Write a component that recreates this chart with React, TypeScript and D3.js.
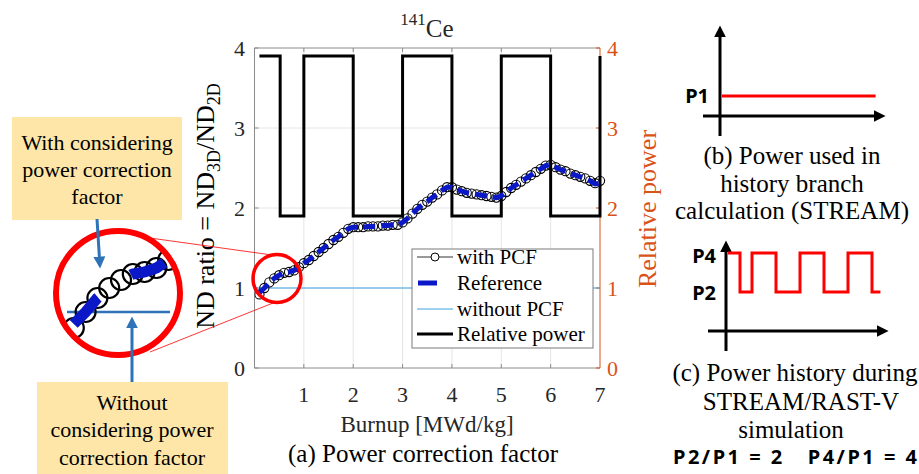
import React from 'react';
import * as d3 from 'd3';

// ---------- data ----------
const burnup = [
  0.1, 0.2, 0.3, 0.4, 0.5, 0.6, 0.7, 0.8, 0.9, 1.0,
  1.1, 1.2, 1.3, 1.4, 1.5, 1.6, 1.7, 1.8, 1.9, 2.0,
  2.1, 2.2, 2.3, 2.4, 2.5, 2.6, 2.7, 2.8, 2.9, 3.0,
  3.1, 3.2, 3.3, 3.4, 3.5, 3.6, 3.7, 3.8, 3.9, 4.0,
  4.1, 4.2, 4.3, 4.4, 4.5, 4.6, 4.7, 4.8, 4.9, 5.0,
  5.1, 5.2, 5.3, 5.4, 5.5, 5.6, 5.7, 5.8, 5.9, 6.0,
  6.1, 6.2, 6.3, 6.4, 6.5, 6.6, 6.7, 6.8, 6.9, 7.0,
];
const withPCF = [
  0.92, 1.0, 1.07, 1.12, 1.16, 1.19, 1.2, 1.22, 1.26, 1.31,
  1.35, 1.4, 1.45, 1.5, 1.55, 1.6, 1.64, 1.69, 1.74, 1.76,
  1.76, 1.76, 1.77, 1.77, 1.77, 1.78, 1.78, 1.79, 1.79, 1.82,
  1.87, 1.93, 1.99, 2.04, 2.08, 2.13, 2.17, 2.22, 2.26, 2.26,
  2.23, 2.21, 2.19, 2.18, 2.17, 2.16, 2.15, 2.14, 2.13, 2.15,
  2.2, 2.25, 2.29, 2.33, 2.37, 2.41, 2.45, 2.49, 2.53, 2.54,
  2.51, 2.48, 2.46, 2.43, 2.41, 2.39, 2.37, 2.34, 2.31, 2.34,
];
const reference = [
  0.94, 1.0, 1.07, 1.12, 1.16, 1.19, 1.2, 1.22, 1.26, 1.31,
  1.35, 1.4, 1.45, 1.5, 1.55, 1.6, 1.64, 1.69, 1.74, 1.76,
  1.76, 1.76, 1.77, 1.77, 1.77, 1.78, 1.78, 1.79, 1.79, 1.82,
  1.87, 1.93, 1.99, 2.04, 2.08, 2.13, 2.17, 2.22, 2.26, 2.26,
  2.23, 2.21, 2.19, 2.18, 2.17, 2.16, 2.15, 2.14, 2.13, 2.15,
  2.2, 2.25, 2.29, 2.33, 2.37, 2.41, 2.45, 2.49, 2.53, 2.54,
  2.51, 2.48, 2.46, 2.43, 2.41, 2.39, 2.37, 2.34, 2.3, 2.31,
];
const withoutX = [0, 7];
const withoutPCF = [1, 1];
const powerX = [0.1, 0.52, 0.52, 1, 1, 2, 2, 3, 3, 4, 4, 5, 5, 6, 6, 7, 7];
const powerY = [3.9, 3.9, 1.9, 1.9, 3.9, 3.9, 1.9, 1.9, 3.9, 3.9, 1.9, 1.9, 3.9, 3.9, 1.9, 1.9, 3.9];
const xTicks = [1, 2, 3, 4, 5, 6, 7];
const yTicks = [0, 1, 2, 3, 4];
const rightTicks = [0, 1, 2, 3, 4];
const legendLabels = ['with PCF', 'Reference', 'without PCF', 'Relative power'];

// schematic panels
const constX = [0, 6.4];
const constP = [1, 1];
const waveX = [0, 0.5, 0.5, 1, 1, 2, 2, 3, 3, 4, 4, 5, 5, 6, 6, 6.35];
const waveP = [4, 4, 2, 2, 4, 4, 2, 2, 4, 4, 2, 2, 4, 4, 2, 2];

const SERIF = '"Liberation Serif", "Times New Roman", serif';
const SANS = '"Noto Sans", "Open Sans", sans-serif';
const ORANGE = '#D95319';
const DARK = '#262626';
const REFBLUE = '#0a18c8';
const LIGHTBLUE = '#3fa2e4';
const GRID = '#e6e6e6';
const BOXFILL = '#fde6a8';
const ARROWBLUE = '#2e72b8';

export default function App() {
  const xs = d3.scaleLinear().domain([0, 7]).range([254.5, 600]);
  const ys = d3.scaleLinear().domain([0, 4]).range([368, 48]);
  const left = xs(0), right = xs(7), top = ys(4), bottom = ys(0);

  const pcfPts = burnup.map((b, i) => [b, withPCF[i]] as [number, number]);
  const refPts = burnup.map((b, i) => [b, reference[i]] as [number, number]);
  const woPts = withoutX.map((b, i) => [b, withoutPCF[i]] as [number, number]);
  const powPts = powerX.map((b, i) => [b, powerY[i]] as [number, number]);

  const line = d3.line<[number, number]>().x(d => xs(d[0])).y(d => ys(d[1]));

  // inset (magnified view)
  const ix = d3.scaleLinear().domain([0, 1]).range([62, 180]);
  const iy = d3.scaleLinear().domain([1, 1.2]).range([312, 272]);
  const iline = d3.line<[number, number]>().x(d => ix(d[0])).y(d => iy(d[1]));
  const insetC = { x: 118, y: 293, r: 62 };

  // panel b
  const bx = d3.scaleLinear().domain([0, 1]).range([722, 746]);
  const by = d3.scaleLinear().domain([0, 1]).range([116, 96]);
  const bline = d3.line<[number, number]>().x(d => bx(d[0])).y(d => by(d[1]));
  // panel c
  const cx = d3.scaleLinear().domain([0, 1]).range([728, 752]);
  const cy = d3.scaleLinear().domain([0, 4]).range([331, 253]);
  const cline = d3.line<[number, number]>().x(d => cx(d[0])).y(d => cy(d[1]));

  const legX = 412, legY = 249, legW = 181, legH = 99;
  const legRows = [257, 283, 309, 334];

  return (
    <svg width={919} height={474} style={{ position: 'absolute', left: 0, top: 0, background: '#fff' }}>
      <defs>
        <clipPath id="plotClip">
          <rect x={left} y={top - 2} width={right - left + 6} height={bottom - top + 2} />
        </clipPath>
        <clipPath id="insetClip">
          <circle cx={insetC.x} cy={insetC.y} r={insetC.r - 2} />
        </clipPath>
        <marker id="arrBlack" viewBox="0 0 10 10" refX="2" refY="5" markerWidth="4" markerHeight="4" orient="auto" markerUnits="strokeWidth">
          <path d="M0,0 L10,5 L0,10 z" fill="#000" />
        </marker>
        <marker id="arrBlue" viewBox="0 0 10 10" refX="2" refY="5" markerWidth="4" markerHeight="4" orient="auto" markerUnits="strokeWidth">
          <path d="M0,0 L10,5 L0,10 z" fill={ARROWBLUE} />
        </marker>
      </defs>

      {/* grid */}
      {xTicks.slice(0, -1).map(t => (
        <line key={'gx' + t} x1={xs(t)} x2={xs(t)} y1={top} y2={bottom} stroke={GRID} strokeWidth={1} />
      ))}
      {yTicks.slice(1, -1).map(t => (
        <line key={'gy' + t} x1={left} x2={right} y1={ys(t)} y2={ys(t)} stroke={GRID} strokeWidth={1} />
      ))}

      {/* axes frame */}
      <line x1={left} x2={right} y1={top} y2={top} stroke="#8c8c8c" strokeWidth={1} />
      <line x1={left} x2={right} y1={bottom} y2={bottom} stroke="#8c8c8c" strokeWidth={1} />
      <line x1={left} x2={left} y1={top} y2={bottom} stroke="#8c8c8c" strokeWidth={1} />
      <line x1={right} x2={right} y1={top} y2={bottom} stroke={ORANGE} strokeWidth={1} />
      {xTicks.slice(0, -1).map(t => (
        <g key={'tx' + t}>
          <line x1={xs(t)} x2={xs(t)} y1={bottom} y2={bottom - 4} stroke="#8c8c8c" />
          <line x1={xs(t)} x2={xs(t)} y1={top} y2={top + 4} stroke="#8c8c8c" />
        </g>
      ))}
      {yTicks.map(t => (
        <g key={'ty' + t}>
          <line x1={left} x2={left + 4} y1={ys(t)} y2={ys(t)} stroke="#8c8c8c" />
          <line x1={right} x2={right - 4} y1={ys(t)} y2={ys(t)} stroke={ORANGE} />
        </g>
      ))}

      {/* tick labels */}
      {xTicks.map(t => (
        <text key={'lx' + t} x={xs(t)} y={402} textAnchor="middle" fontFamily={SERIF} fontSize={22} fill={DARK}>{t}</text>
      ))}
      {yTicks.map(t => (
        <text key={'ly' + t} x={245} y={ys(t) + 7.5} textAnchor="end" fontFamily={SERIF} fontSize={22} fill={DARK}>{t}</text>
      ))}
      {rightTicks.map(t => (
        <text key={'lr' + t} x={607} y={ys(t) + 7.5} textAnchor="start" fontFamily={SERIF} fontSize={22} fill={ORANGE}>{t}</text>
      ))}

      {/* series */}
      <g clipPath="url(#plotClip)">
        <path d={line(woPts) || ''} fill="none" stroke={LIGHTBLUE} strokeWidth={1} />
        <path d={line(powPts) || ''} fill="none" stroke="#000" strokeWidth={3} />
        {pcfPts.map((d, i) => (
          <circle key={'c' + i} cx={xs(d[0])} cy={ys(d[1])} r={4.6} fill="none" stroke="#000" strokeWidth={1.1} />
        ))}
        <path d={line(refPts) || ''} fill="none" stroke={REFBLUE} strokeWidth={5} strokeDasharray="12 6" />
      </g>

      {/* titles */}
      <text x={427} y={37} textAnchor="middle" fontFamily={SERIF} fontSize={25} fill={DARK}>
        <tspan fontSize={17} dy={-12}>141</tspan>
        <tspan dy={12}>Ce</tspan>
      </text>
      <text x={427} y={432} textAnchor="middle" fontFamily={SERIF} fontSize={23} fill={DARK}>Burnup [MWd/kg]</text>
      <text x={423} y={462} textAnchor="middle" fontFamily={SERIF} fontSize={25} fill="#000">(a) Power correction factor</text>
      <text transform="translate(214,206) rotate(-90)" textAnchor="middle" fontFamily={SERIF} fontSize={26} fill="#000">
        ND ratio = ND<tspan fontSize={18} dy={6}>3D</tspan><tspan dy={-6}>/ND</tspan><tspan fontSize={18} dy={6}>2D</tspan>
      </text>
      <text transform="translate(656,209) rotate(-90)" textAnchor="middle" fontFamily={SERIF} fontSize={26} fill={ORANGE}>Relative power</text>

      {/* legend */}
      <rect x={legX} y={legY} width={legW} height={legH} fill="#fff" stroke="#7a7a7a" strokeWidth={1} />
      <line x1={417} x2={453} y1={legRows[0]} y2={legRows[0]} stroke="#333" strokeWidth={1} />
      <circle cx={435} cy={legRows[0]} r={4} fill="#fff" stroke="#000" strokeWidth={1} />
      <line x1={418} x2={437} y1={legRows[1]} y2={legRows[1]} stroke={REFBLUE} strokeWidth={5} />
      <line x1={417} x2={453} y1={legRows[2]} y2={legRows[2]} stroke={LIGHTBLUE} strokeWidth={1} />
      <line x1={417} x2={453} y1={legRows[3]} y2={legRows[3]} stroke="#000" strokeWidth={3} />
      {legendLabels.map((l, i) => (
        <text key={'lg' + i} x={457} y={legRows[i] + 7} fontFamily={SERIF} fontSize={21} fill="#000">{l}</text>
      ))}

      {/* magnifier circle in main plot */}
      <circle cx={277} cy={278.5} r={24} fill="none" stroke="#f00" strokeWidth={3.5} />
      <line x1={150} y1={238} x2={272} y2={255} stroke="#f00" strokeWidth={0.8} />
      <line x1={150} y1={352} x2={273} y2={303} stroke="#f00" strokeWidth={0.8} />

      {/* inset */}
      <circle cx={insetC.x} cy={insetC.y} r={insetC.r} fill="#fff" stroke="none" />
      <g clipPath="url(#insetClip)">
        <line x1={67} x2={170} y1={iy(withoutPCF[0])} y2={iy(withoutPCF[1])} stroke={ARROWBLUE} strokeWidth={2.5} />
        {pcfPts.slice(0, 10).map((d, i) => (
          <circle key={'ic' + i} cx={ix(d[0])} cy={iy(d[1])} r={10} fill="none" stroke="#000" strokeWidth={2.2} />
        ))}
        <path d={iline(refPts) || ''} fill="none" stroke={REFBLUE} strokeWidth={11} strokeDasharray="36 40" />
      </g>
      <circle cx={insetC.x} cy={insetC.y} r={insetC.r} fill="none" stroke="#f00" strokeWidth={6} />

      {/* annotation boxes */}
      <rect x={12} y={117} width={170} height={103} fill={BOXFILL} />
      <text textAnchor="middle" fontFamily={SERIF} fontSize={22} fill="#000">
        <tspan x={97} y={150}>With considering</tspan>
        <tspan x={97} y={177}>power correction</tspan>
        <tspan x={97} y={204}>factor</tspan>
      </text>
      <line x1={97} y1={219} x2={99.5} y2={259} stroke={ARROWBLUE} strokeWidth={3} markerEnd="url(#arrBlue)" />

      <rect x={37} y={382} width={191} height={95} fill={BOXFILL} />
      <text textAnchor="middle" fontFamily={SERIF} fontSize={22} fill="#000">
        <tspan x={132} y={410}>Without</tspan>
        <tspan x={132} y={437}>considering power</tspan>
        <tspan x={132} y={465}>correction factor</tspan>
      </text>
      <line x1={132} y1={382} x2={132} y2={326} stroke={ARROWBLUE} strokeWidth={3} markerEnd="url(#arrBlue)" />

      {/* panel b */}
      <line x1={720} y1={136} x2={720} y2={35} stroke="#000" strokeWidth={3} markerEnd="url(#arrBlack)" />
      <line x1={703} y1={116} x2={876} y2={116} stroke="#000" strokeWidth={3} markerEnd="url(#arrBlack)" />
      <path d={bline(constX.map((x, i) => [x, constP[i]] as [number, number])) || ''} fill="none" stroke="#f00" strokeWidth={3} />
      <text x={709} y={103} textAnchor="end" fontFamily={SANS} fontWeight={700} fontSize={20} fill="#000">P1</text>
      <text textAnchor="middle" fontFamily={SERIF} fontSize={25} fill="#000">
        <tspan x={792} y={164}>(b) Power used in</tspan>
        <tspan x={792} y={192}>history branch</tspan>
        <tspan x={792} y={219}>calculation (STREAM)</tspan>
      </text>

      {/* panel c */}
      <line x1={726} y1={351} x2={726} y2={250} stroke="#000" strokeWidth={3} markerEnd="url(#arrBlack)" />
      <line x1={708} y1={331} x2={879} y2={331} stroke="#000" strokeWidth={3} markerEnd="url(#arrBlack)" />
      <path d={cline(waveX.map((x, i) => [x, waveP[i]] as [number, number])) || ''} fill="none" stroke="#f00" strokeWidth={3} />
      <text x={716} y={263} textAnchor="end" fontFamily={SANS} fontWeight={700} fontSize={20} fill="#000">P4</text>
      <text x={716} y={300} textAnchor="end" fontFamily={SANS} fontWeight={700} fontSize={20} fill="#000">P2</text>
      <text textAnchor="middle" fontFamily={SERIF} fontSize={25} fill="#000">
        <tspan x={795} y={381}>(c) Power history during</tspan>
        <tspan x={801} y={410}>STREAM/RAST-V</tspan>
        <tspan x={791} y={438}>simulation</tspan>
      </text>
      <text x={673} y={464} textAnchor="start" fontFamily={SANS} fontWeight={700} fontSize={20} fill="#000" xmlSpace="preserve" textLength={244} lengthAdjust="spacing">P2/P1 = 2   P4/P1 = 4</text>
    </svg>
  );
}
